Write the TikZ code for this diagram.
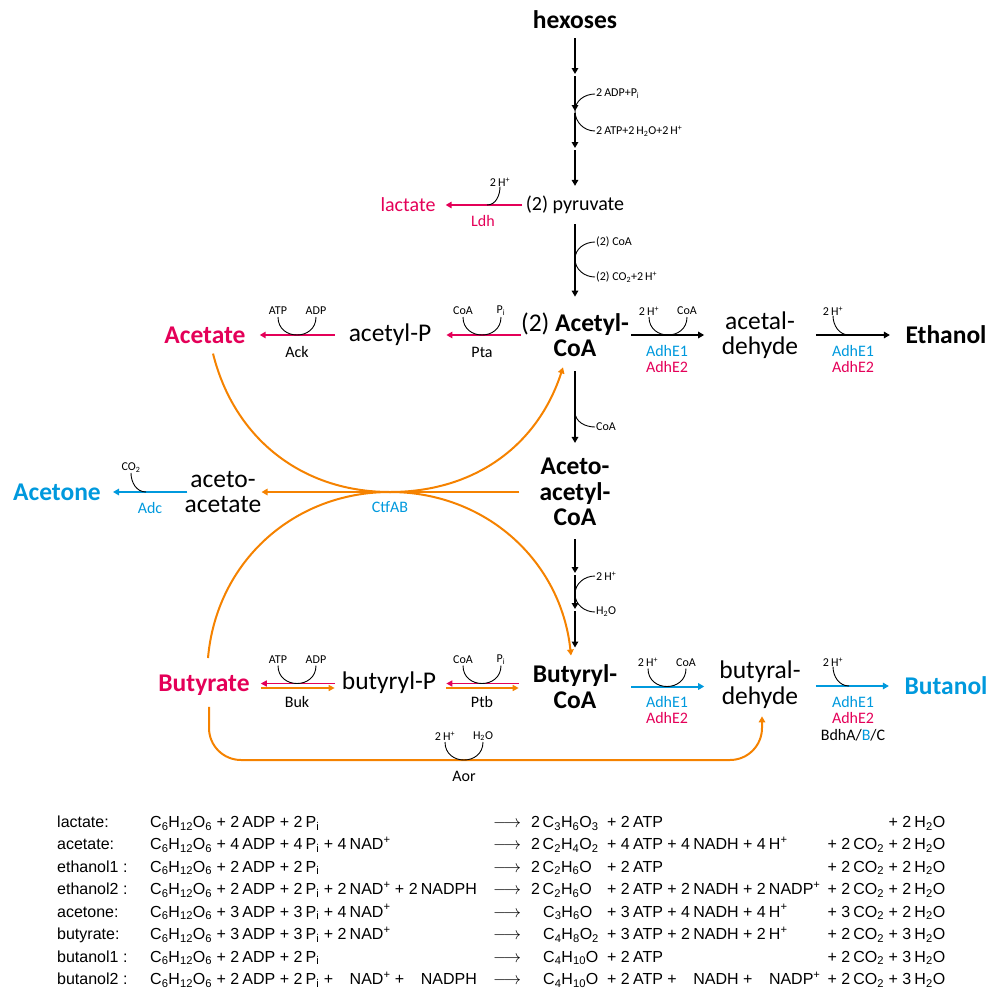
\documentclass[tikz,border=0pt]{standalone}
\usepackage{fontspec}
\setmainfont{Carlito}
\newfontfamily\eqfont{Liberation Sans}
\usetikzlibrary{arrows.meta}
\definecolor{rxred}{RGB}{228,0,88}
\definecolor{rxblue}{RGB}{0,153,221}
\definecolor{rxorange}{RGB}{245,130,0}
\newcommand{\glc}{C\textsubscript{6}H\textsubscript{12}O\textsubscript{6}}
\newcommand{\Hplus}{H\textsuperscript{+}}
\newcommand{\Pin}{P\textsubscript{i}}
\newcommand{\water}{H\textsubscript{2}O}
\newcommand{\cotwo}{CO\textsubscript{2}}
\newcommand{\nadp}{NAD\textsuperscript{+}}
\newcommand{\eqp}[1]{+ #1\hspace{0.2em}}
\begin{document}
\begin{tikzpicture}[x=1pt,y=-1pt,
    every node/.style={inner sep=0pt},
    met/.style={font=\fontsize{25.5}{25.5}\selectfont,align=center},
    prd/.style={font=\fontsize{25.5}{25.5}\selectfont\bfseries,align=center},
    sml/.style={font=\fontsize{20}{20}\selectfont},
    enz/.style={font=\fontsize{16}{16.5}\selectfont,align=center},
    cof/.style={font=\fontsize{12}{12}\selectfont},
    arr/.style={line width=2pt,-{Triangle[length=6pt,width=6.5pt]}},
    dbl/.style={line width=1.6pt,-{Triangle[length=6pt,width=6pt]}},
    hook/.style={line width=0.9pt}]
\useasboundingbox (0,0) rectangle (989,988);

\node[prd] (hex) at (575,20) {hexoses};
\node[sml] (pyr) at (575,205) {(2) pyruvate};
\node[sml,rxred] (lac) at (408,205) {lactate};
\node[prd] (acoa) at (575,335) {{\mdseries(2)} Acetyl-\\CoA};
\node[met] (acp) at (390,335) {acetyl-P};
\node[prd,rxred] (ace) at (205,335) {Acetate};
\node[met] (acald) at (760,335) {acetal-\\dehyde};
\node[prd] (eth) at (946,335) {Ethanol};
\node[prd] (aacoa) at (575,492) {Aceto-\\acetyl-\\CoA};
\node[met] (aca) at (223,492) {aceto-\\acetate};
\node[prd,rxblue] (acn) at (57,492) {Acetone};
\node[prd] (bcoa) at (575,686.5) {Butyryl-\\CoA};
\node[met] (bp) at (389,683) {butyryl-P};
\node[prd,rxred] (but) at (204,685.5) {Butyrate};
\node[met] (bald) at (760,684.5) {butyral-\\dehyde};
\node[prd,rxblue] (buta) at (946,686) {Butanol};

\node[enz,rxred] (ldh) at (483,221) {Ldh};
\node[enz] (ack) at (297,352) {Ack};
\node[enz] (pta) at (482,352) {Pta};
\node[enz] (adh1) at (667,359) {\textcolor{rxblue}{AdhE1}\\\textcolor{rxred}{AdhE2}};
\node[enz] (adh2) at (853,359) {\textcolor{rxblue}{AdhE1}\\\textcolor{rxred}{AdhE2}};
\node[enz,rxblue] (adc) at (150,508) {Adc};
\node[enz,rxblue] (ctf) at (390,507) {CtfAB};
\node[enz] (buk) at (297,702) {Buk};
\node[enz] (ptb) at (482,702) {Ptb};
\node[enz] (adh3) at (667,710) {\textcolor{rxblue}{AdhE1}\\\textcolor{rxred}{AdhE2}};
\node[enz] (adh4) at (853,718.5) {\textcolor{rxblue}{AdhE1}\\\textcolor{rxred}{AdhE2}\\BdhA/\textcolor{rxblue}{B}/C};
\node[enz] (aor) at (464,776) {Aor};

\coordinate (g1) at (575,74);
\coordinate (g2) at (575,111);
\coordinate (g3) at (575,148);
\coordinate (k1) at (575,573);
\coordinate (k2) at (575,609);
\coordinate (tx) at (390,492);
\coordinate (aorc) at (464,760);

\draw[arr,shorten <=9pt] (hex) -- (g1);
\draw[arr,shorten <=2pt] (g1) -- (g2);
\draw[arr,shorten <=2pt] (g2) -- (g3);
\draw[arr,shorten <=2pt,shorten >=10pt] (g3) -- (pyr);
\draw[arr,shorten <=10pt,shorten >=16pt] (pyr) -- (acoa);
\draw[arr,shorten <=14pt,shorten >=15pt] (acoa) -- (aacoa);
\draw[arr,shorten <=13pt] (aacoa) -- (k1);
\draw[arr,shorten <=2pt] (k1) -- (k2);
\draw[arr,shorten <=2pt,shorten >=17pt] (k2) -- (bcoa);

\draw[arr,rxred,shorten <=3.5pt,shorten >=10pt] (pyr) -- (lac);
\draw[arr,rxred,shorten >=15pt] (acoa) -- (acp);
\draw[arr,rxred,shorten <=14pt,shorten >=14pt] (acp) -- (ace);
\draw[arr,shorten <=2pt,shorten >=17.5pt] (acoa) -- (acald);
\draw[arr,shorten <=17.5pt,shorten >=15.5pt] (acald) -- (eth);
\draw[arr,rxorange,shorten <=20pt] (aacoa) -- (aca);
\draw[arr,rxblue,shorten <=-3pt,shorten >=12pt] (aca) -- (acn);
\draw[dbl,rxred,shorten <=14pt,shorten >=10pt] ([yshift=3pt]bcoa.west) -- ([yshift=3pt]bcoa.west -| bp.east);
\draw[dbl,rxorange,shorten <=10pt,shorten >=14pt] ([yshift=-1.5pt]bcoa.west -| bp.east) -- ([yshift=-1.5pt]bcoa.west);
\draw[dbl,rxred,shorten <=7pt,shorten >=11pt] ([yshift=3pt]bcoa.west -| bp.west) -- ([yshift=3pt]bcoa.west -| but.east);
\draw[dbl,rxorange,shorten <=11pt,shorten >=7pt] ([yshift=-1.5pt]bcoa.west -| but.east) -- ([yshift=-1.5pt]bcoa.west -| bp.west);
\draw[arr,rxblue,shorten <=14pt,shorten >=15pt] (bcoa.east) -- (bcoa.east -| bald.west);
\draw[arr,rxblue,shorten <=15pt,shorten >=15.5pt] (buta.west -| bald.east) -- (buta.west);

\draw[arr,rxorange] ([xshift=8pt,yshift=-10pt]ace.south) to[out=-76,in=180] (tx) to[out=0,in=-108] ([xshift=-12pt,yshift=-10pt]acoa.south);
\draw[arr,rxorange] ([xshift=4pt,yshift=17pt]but.north) to[out=85,in=180] (tx) to[out=0,in=96] ([xshift=-4pt,yshift=9pt]bcoa.north);
\draw[arr,rxorange,rounded corners=32pt] ([xshift=5pt,yshift=-11pt]but.south) |- (aorc) -| ([xshift=2pt,yshift=-8pt]bald.south);

\foreach \n/\cx/\cy/\l/\r in {ack/297/335/ATP/ADP, pta/482/335/CoA/\Pin, ad1/668/335/2\,\Hplus/CoA,
    buk/297/683.5/ATP/ADP, ptb/482/683.5/CoA/\Pin, ad3/667/686.5/2\,\Hplus/CoA, aor/464/760/2\,\Hplus/\water}
{
  \node[cof] (\n-l) at (\cx-19,\cy-24) {\l};
  \node[cof] (\n-r) at (\cx+19,\cy-24) {\r};
  \draw[hook] (\cx-19,\cy-18) .. controls (\cx-19,\cy+6) and (\cx+19,\cy+6) .. (\cx+19,\cy-18);
}

\node[cof] (ldh-h) at (500,182) {2\,\Hplus};
\draw[hook] (ldh-h.south) to[out=-90,in=0] (487,205);
\node[cof] (eth-h) at (833,311) {2\,\Hplus};
\draw[hook] (eth-h.south) to[out=-90,in=180] (849,335);
\node[cof] (but-h) at (833,662) {2\,\Hplus};
\draw[hook] (but-h.south) to[out=-90,in=180] (849,686);
\node[cof] (adc-c) at (131,468) {\cotwo};
\draw[hook] (adc-c.south) to[out=-90,in=180] (146,492);

\node[cof,anchor=west,inner sep=1pt] (adp0) at (595,94) {2\,ADP+\Pin};
\node[cof,anchor=west,inner sep=1pt] (atp0) at (595,131) {2\,ATP+2\,\water+2\,\Hplus};
\draw[hook] (adp0.west) to[out=180,in=90] (575,111) to[out=-90,in=180] (atp0.west);
\node[cof,anchor=west,inner sep=1pt] (coa0) at (595,242) {(2) CoA};
\node[cof,anchor=west,inner sep=1pt] (co20) at (595,277) {(2) \cotwo+2\,\Hplus};
\draw[hook] (coa0.west) to[out=180,in=90] (575,259) to[out=-90,in=180] (co20.west);
\node[cof,anchor=west,inner sep=1pt] (coa1) at (595,427) {CoA};
\draw[hook] (575,412) to[out=-90,in=180] (coa1.west);
\node[cof,anchor=west,inner sep=1pt] (h2b) at (595,576) {2\,\Hplus};
\node[cof,anchor=west,inner sep=1pt] (h2o) at (595,612) {\water};
\draw[hook] (h2b.west) to[out=180,in=90] (575,594) to[out=-90,in=180] (h2o.west);

\node[anchor=base west,font=\eqfont\fontsize{16}{22.43}\selectfont] (eqs) at (57,827.5) {%
\begin{tabular}[t]{@{}p{93pt}@{}p{343pt}@{}p{38pt}@{}p{76pt}@{}p{338pt}@{}}
lactate: & \glc{} \eqp{2}ADP \eqp{2}\Pin & $\longrightarrow$ & 2\,C\textsubscript{3}H\textsubscript{6}O\textsubscript{3} & \eqp{2}ATP\hfill\eqp{2}\water\\
acetate: & \glc{} \eqp{4}ADP \eqp{4}\Pin{} \eqp{4}\nadp & $\longrightarrow$ & 2\,C\textsubscript{2}H\textsubscript{4}O\textsubscript{2} & \eqp{4}ATP \eqp{4}NADH \eqp{4}\Hplus\hfill\eqp{2}\cotwo{} \eqp{2}\water\\
ethanol1 : & \glc{} \eqp{2}ADP \eqp{2}\Pin & $\longrightarrow$ & 2\,C\textsubscript{2}H\textsubscript{6}O & \eqp{2}ATP\hfill\eqp{2}\cotwo{} \eqp{2}\water\\
ethanol2 : & \glc{} \eqp{2}ADP \eqp{2}\Pin{} \eqp{2}\nadp{} \eqp{2}NADPH & $\longrightarrow$ & 2\,C\textsubscript{2}H\textsubscript{6}O & \eqp{2}ATP \eqp{2}NADH \eqp{2}NADP\textsuperscript{+}\hfill\eqp{2}\cotwo{} \eqp{2}\water\\
acetone: & \glc{} \eqp{3}ADP \eqp{3}\Pin{} \eqp{4}\nadp & $\longrightarrow$ & \hspace{12pt}C\textsubscript{3}H\textsubscript{6}O & \eqp{3}ATP \eqp{4}NADH \eqp{4}\Hplus\hfill\eqp{3}\cotwo{} \eqp{2}\water\\
butyrate: & \glc{} \eqp{3}ADP \eqp{3}\Pin{} \eqp{2}\nadp & $\longrightarrow$ & \hspace{12pt}C\textsubscript{4}H\textsubscript{8}O\textsubscript{2} & \eqp{3}ATP \eqp{2}NADH \eqp{2}\Hplus\hfill\eqp{2}\cotwo{} \eqp{3}\water\\
butanol1 : & \glc{} \eqp{2}ADP \eqp{2}\Pin & $\longrightarrow$ & \hspace{12pt}C\textsubscript{4}H\textsubscript{10}O & \eqp{2}ATP\hfill\eqp{2}\cotwo{} \eqp{3}\water\\
butanol2 : & \glc{} \eqp{2}ADP \eqp{2}\Pin{} \eqp{\phantom{2}}\nadp{} \eqp{\phantom{2}}NADPH & $\longrightarrow$ & \hspace{12pt}C\textsubscript{4}H\textsubscript{10}O & \eqp{2}ATP \eqp{\phantom{2}}NADH \eqp{\phantom{2}}NADP\textsuperscript{+}\hfill\eqp{2}\cotwo{} \eqp{3}\water
\end{tabular}};
\end{tikzpicture}
\end{document}
